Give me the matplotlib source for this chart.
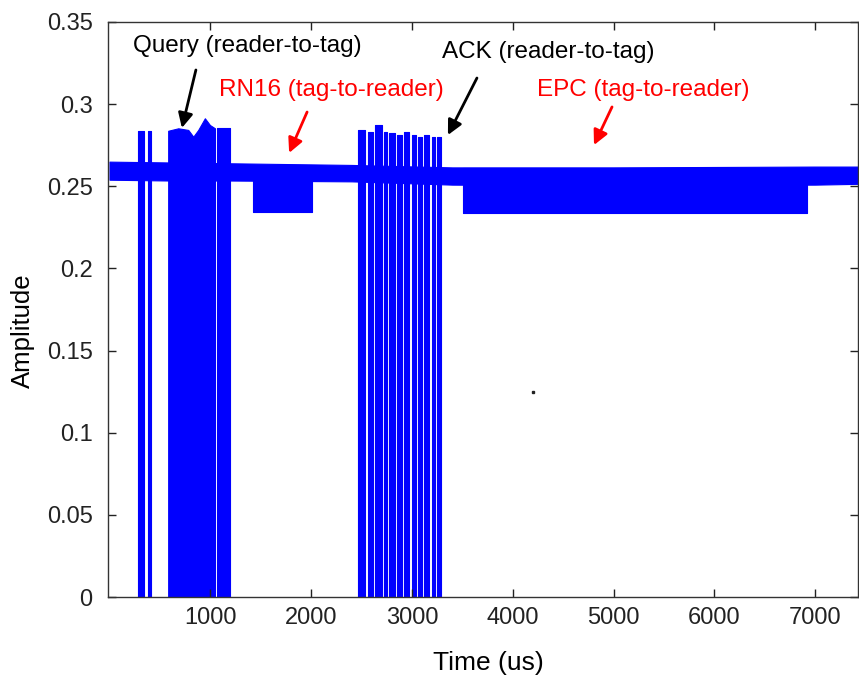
import matplotlib
matplotlib.use("Agg")
import matplotlib.pyplot as plt
from matplotlib.ticker import FuncFormatter

plt.rcParams['font.family'] = ['Liberation Sans', 'DejaVu Sans']

# ---------------- data ----------------
# baseline (carrier) envelope
base_x = [0, 600, 1200, 2400, 3400, 5000, 7000, 7430]
base_lo = [0.2540, 0.2535, 0.2535, 0.2530, 0.2510, 0.2505, 0.2510, 0.2515]
base_hi = [0.2650, 0.2645, 0.2640, 0.2630, 0.2615, 0.2615, 0.2620, 0.2620]

# tag backscatter segments (RN16, EPC): start, end, lower envelope, upper envelope
tag_start = [1426, 3509]
tag_end = [2005, 6916]
tag_lo = [0.2345, 0.2335]
tag_hi = [0.2620, 0.2610]

# Query (reader-to-tag) bursts reaching zero: start, end, top
query_start = [285, 378, 1062]
query_end = [344, 411, 1194]
query_top = [0.2835, 0.2835, 0.2855]
# main Query block top envelope
qmain_x = [582, 682, 781, 831, 880, 946, 996, 1046]
qmain_top = [0.2838, 0.2853, 0.2843, 0.2802, 0.2843, 0.2914, 0.2873, 0.2853]

# ACK (reader-to-tag) bursts reaching zero
ack_start = [2467, 2566, 2635, 2722, 2775, 2854, 2921, 2997, 3062, 3119, 3195, 3251]
ack_end = [2534, 2616, 2699, 2755, 2831, 2898, 2973, 3040, 3096, 3172, 3228, 3285]
ack_top = [0.2843, 0.2832, 0.2873, 0.2832, 0.2822, 0.2812, 0.2832, 0.2812,
           0.2802, 0.2812, 0.2802, 0.2802]

# stray point
dot_x = [4200]
dot_y = [0.1248]

# annotations: label, text position, arrow tail, arrow head, colour
ann_labels = ["Query (reader-to-tag)", "ACK (reader-to-tag)",
              "RN16 (tag-to-reader)", "EPC (tag-to-reader)"]
ann_text_x = [1365, 4349, 2200, 5292]
ann_text_y = [0.3354, 0.3317, 0.3086, 0.3086]
ann_tail_x = [857, 3645, 1960, 4985]
ann_tail_y = [0.3208, 0.3159, 0.2952, 0.2983]
ann_head_x = [718, 3357, 1782, 4806]
ann_head_y = [0.2855, 0.2812, 0.2703, 0.2751]
ann_colors = ["black", "black", "red", "red"]

x_ticks = [1000, 2000, 3000, 4000, 5000, 6000, 7000]
y_ticks = [0, 0.05, 0.1, 0.15, 0.2, 0.25, 0.3, 0.35]

# ---------------- figure ----------------
BLUE = "#0000ff"
fig = plt.figure(figsize=(8.59, 6.79), dpi=100)
ax = fig.add_axes([108 / 859, 82 / 679, 750 / 859, 575 / 679])

# baseline
ax.fill_between(base_x, base_lo, base_hi, color=BLUE, lw=0.8, ec=BLUE)

# tag backscatter
for s, e, lo, hi in zip(tag_start, tag_end, tag_lo, tag_hi):
    ax.fill_between([s, e], [lo, lo], [hi, hi], color=BLUE, lw=0.8, ec=BLUE)

# reader bursts
for s, e, t in zip(query_start, query_end, query_top):
    ax.fill_between([s, e], [0, 0], [t, t], color=BLUE, lw=0.8, ec=BLUE)
ax.fill_between(qmain_x, 0, qmain_top, color=BLUE, lw=0.8, ec=BLUE)
for s, e, t in zip(ack_start, ack_end, ack_top):
    ax.fill_between([s, e], [0, 0], [t, t], color=BLUE, lw=0.8, ec=BLUE)

ax.plot(dot_x, dot_y, marker='s', ms=1.5, color='#222222', ls='none')

for lab, tx, ty, ax0, ay0, hx, hy, c in zip(ann_labels, ann_text_x, ann_text_y,
                                            ann_tail_x, ann_tail_y,
                                            ann_head_x, ann_head_y, ann_colors):
    ax.text(tx, ty, lab, color=c, fontsize=17.5, ha='center', va='center')
    ax.annotate('', xy=(hx, hy), xytext=(ax0, ay0),
                arrowprops=dict(arrowstyle='-|>', color=c, lw=2,
                                mutation_scale=22, shrinkA=0, shrinkB=0))

ax.set_xlim(-15, 7425)
ax.set_ylim(0, 0.35)
ax.set_xticks(x_ticks)
ax.set_yticks(y_ticks)
ax.yaxis.set_major_formatter(FuncFormatter(lambda v, p: f"{v:g}"))
ax.tick_params(direction='in', top=True, right=True, length=6, width=1,
               labelsize=17, colors='#222222')
ax.tick_params(axis='y', pad=11)
ax.tick_params(axis='x', pad=7)
for sp in ax.spines.values():
    sp.set_color('#333333')
    sp.set_linewidth(1)

ax.set_xlabel("Time (us)", fontsize=19)
ax.set_ylabel("Amplitude", fontsize=18.5)
ax.xaxis.set_label_coords(0.507, -0.094)
ax.yaxis.set_label_coords(-0.097, 0.464)

fig.savefig("out.png", dpi=100)
